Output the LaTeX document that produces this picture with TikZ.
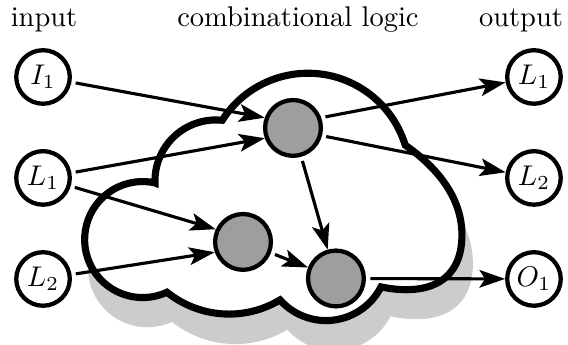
\documentclass[tikz,border=0pt]{standalone}
\usetikzlibrary{arrows.meta,shadows}

\begin{document}
\begin{tikzpicture}
  \tikzstyle{io}=[circle, draw, line width=1.5pt, minimum size=18.8pt, inner sep=0pt, fill=white]
  \tikzstyle{gate}=[circle, draw, line width=1.5pt, minimum size=19.6pt, inner sep=0pt, fill=black!38]
  \tikzstyle{wire}=[line width=1.1pt, -{Stealth[length=9pt,width=6.2pt,inset=2pt]}, shorten <=1.5pt]
  \tikzstyle{cloudline}=[line width=2.5pt, fill=white,
    drop shadow={shadow xshift=0.086cm, shadow yshift=-0.333cm, shadow scale=1.02, fill=black!20, opacity=1}]

  \useasboundingbox (0,0) rectangle (7.01,4.257);

  % the cloud around the logic
  \draw[cloudline] (1.913,1.999)
    arc[start angle=182, end angle=84, radius=0.7515]
    arc[start angle=147.5, end angle=17, radius=1.255]
    .. controls (5.352,2.221) and (5.701,1.851) .. (5.701,1.357)
    .. controls (5.701,0.802) and (5.306,0.592) .. (4.702,0.716)
    arc[start angle=-27, end angle=-138.3, radius=0.761]
    arc[start angle=-59, end angle=-128.8, radius=1.222]
    arc[start angle=-65.2, end angle=-281.9, radius=0.716]
    -- cycle;

  \node[anchor=base] (inlabel) at (0.543,3.924) {input};
  \node[anchor=base] (logiclabel) at (3.677,3.924) {combinational logic};
  \node[anchor=base] (outlabel) at (6.43,3.924) {output};

  \node[io] (I1) at (0.531,3.307) {$I_1$};
  \node[io] (L1in) at (0.531,2.061) {$L_1$};
  \node[io] (L2in) at (0.531,0.814) {$L_2$};

  \node[io] (L1out) at (6.59,3.307) {$L_1$};
  \node[io] (L2out) at (6.59,2.061) {$L_2$};
  \node[io] (O1) at (6.59,0.814) {$O_1$};

  \node[gate] (ga) at (3.616,2.678) {};
  \node[gate] (gb) at (2.999,1.271) {};
  \node[gate] (gc) at (4.146,0.82) {};

  \draw[wire] (I1) -- (ga.160);
  \draw[wire] (L1in) -- (ga.200);
  \draw[wire] (L1in) -- (gb.155);
  \draw[wire] (L2in) -- (gb.200);
  \draw[wire] (ga.20) -- (L1out);
  \draw[wire] (ga.-15) -- (L2out);
  \draw[wire] (ga) -- (gc);
  \draw[wire] (gb) -- (gc);
  \draw[wire] (gc) -- (O1);
\end{tikzpicture}
\end{document}
